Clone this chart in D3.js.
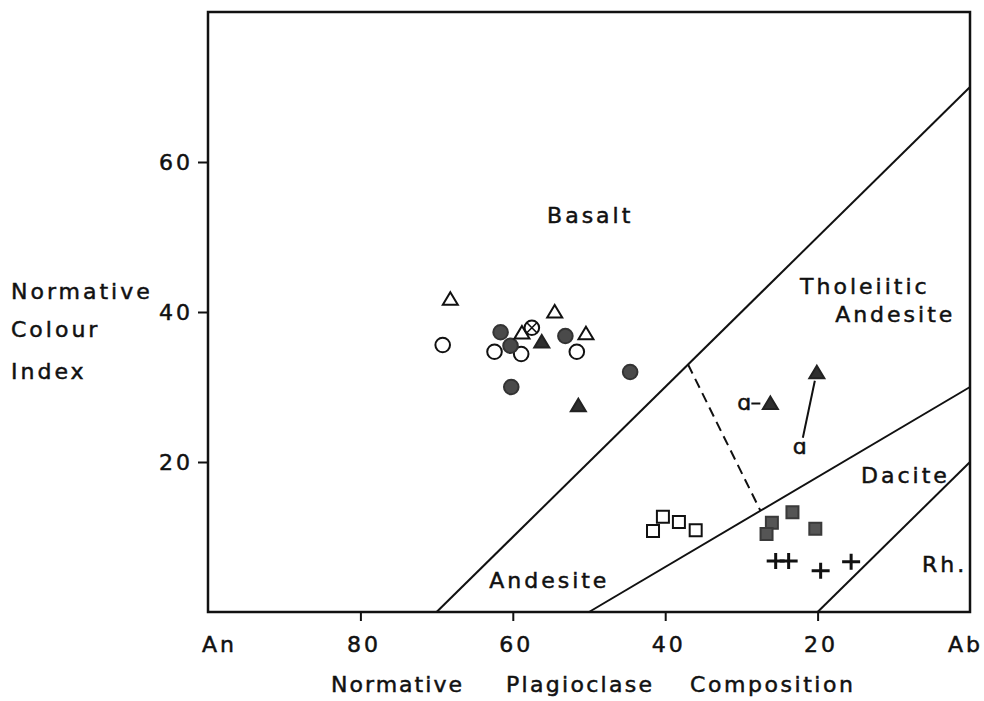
<!DOCTYPE html>
<html>
<head>
<meta charset="utf-8">
<script src="https://cdn.jsdelivr.net/npm/d3@7/dist/d3.min.js"></script>
<style>
  html, body { margin: 0; padding: 0; background: #fff; }
  svg text { font-family: "DejaVu Sans", sans-serif; font-size: 22px; fill: #111; letter-spacing: 3px;
             stroke: #111; stroke-width: 0.5px; }
</style>
</head>
<body>
<svg id="chart" width="984" height="701"></svg>
<script>
// Normative plagioclase composition (An %) vs normative colour index
const xTickValues = [100, 80, 60, 40, 20, 0];
const xTickLabels = ["An", "80", "60", "40", "20", "Ab"];
const yTickValues = [20, 40, 60];

// Field boundaries, as [An, colour index] end points
const boundaryBasaltAndesite = [[70, 0], [0, 70]];
const boundaryAndesiteDacite = [[50, 0], [0, 30]];
const boundaryDaciteRhyolite = [[20, 0], [0, 20]];
const boundaryTholeiitic = [[37, 33], [27.5, 13.5]];

// Samples, as [An, colour index]
const openCircles = [[69.2, 35.6], [62.4, 34.7], [58.9, 34.4], [51.6, 34.7]];
const filledCircles = [[61.6, 37.3], [60.3, 35.5], [53.1, 36.8], [60.2, 30.0], [44.6, 32.0]];
const crossedCircles = [[57.5, 37.9]];
const openTriangles = [[68.2, 41.7], [54.5, 40.0], [58.8, 37.2], [50.4, 37.1]];
const filledTriangles = [[56.2, 36.0], [51.4, 27.5], [26.2, 27.8], [20.1, 31.9]];
const openSquares = [[41.6, 10.8], [40.3, 12.7], [38.2, 12.0], [36.0, 10.9]];
const filledSquares = [[23.3, 13.3], [26.0, 11.9], [26.7, 10.4], [20.3, 11.1]];
const crosses = [[25.5, 6.8], [23.8, 6.8], [19.6, 5.5], [15.6, 6.7]];

// Field names and where they start, in data units
const fieldNames = ["Basalt", "Tholeiitic", "Andesite", "Dacite", "Andesite", "Rh."];
const fieldAn = [55.5, 22.3, 17.7, 14.3, 63.1, 6.3];
const fieldCI = [51.9, 42.4, 38.7, 17.2, 3.2, 5.3];

// Axis titles
const xTitleWords = ["Normative", "Plagioclase", "Composition"];
const yTitleLines = ["Normative", "Colour", "Index"];

const svg = d3.select("#chart");
const x = d3.scaleLinear().domain([100, 0]).range([208, 970]);
const y = d3.scaleLinear().domain([0, 80]).range([612, 12]);

const line = d3.line().x(d => x(d[0])).y(d => y(d[1]));

// plot frame
svg.append("rect")
  .attr("x", x(100)).attr("y", y(80))
  .attr("width", x(0) - x(100)).attr("height", y(0) - y(80))
  .attr("fill", "none").attr("stroke", "#111").attr("stroke-width", 2.5);

// boundaries
[boundaryBasaltAndesite, boundaryAndesiteDacite, boundaryDaciteRhyolite].forEach(b => {
  svg.append("path").attr("d", line(b)).attr("fill", "none")
    .attr("stroke", "#111").attr("stroke-width", 2);
});
svg.append("path").attr("d", line(boundaryTholeiitic)).attr("fill", "none")
  .attr("stroke", "#111").attr("stroke-width", 2).attr("stroke-dasharray", "10,6");

// axes
const xAxis = d3.axisBottom(x)
  .tickValues(xTickValues)
  .tickFormat((d, i) => xTickLabels[i])
  .tickSize(9).tickSizeOuter(0).tickPadding(15);
const gx = svg.append("g").attr("transform", `translate(0,${y(0)})`).call(xAxis);
gx.select(".domain").remove();
gx.selectAll(".tick line").attr("stroke", "#111").attr("stroke-width", 2)
  .filter(d => d === 100 || d === 0).remove();
gx.selectAll(".tick text").attr("font-family", null).attr("font-size", null)
  .attr("dx", d => d === 100 ? 11 : (d === 0 ? -5 : 3));

const yAxis = d3.axisLeft(y).tickValues(yTickValues).tickSize(10).tickPadding(5);
const gy = svg.append("g").attr("transform", `translate(${x(100)},0)`).call(yAxis);
gy.select(".domain").remove();
gy.selectAll(".tick line").attr("stroke", "#111").attr("stroke-width", 2);
gy.selectAll(".tick text").attr("font-family", null).attr("font-size", null).attr("dy", "0.36em");

// axis titles
const titleStart = [331, 506, 690], titleLen = [134, 149, 166];
xTitleWords.forEach((t, i) => {
  svg.append("text").attr("x", titleStart[i]).attr("y", 692)
    .attr("textLength", titleLen[i]).attr("lengthAdjust", "spacing").text(t);
});
yTitleLines.forEach((t, i) => {
  svg.append("text").attr("x", 11).attr("y", [299, 337, 379][i]).text(t);
});

// field names
fieldNames.forEach((t, i) => {
  svg.append("text").attr("x", x(fieldAn[i])).attr("y", y(fieldCI[i])).text(t);
});

// sample symbols
const ink = "#111";
const g = svg.append("g");
function circles(data, fill) {
  g.selectAll(null).data(data).enter().append("circle")
    .attr("cx", d => x(d[0])).attr("cy", d => y(d[1])).attr("r", 7.3)
    .attr("fill", fill).attr("stroke", fill === "#fff" ? ink : "#333").attr("stroke-width", 2);
}
const tri = "M0,-7 L7.5,5.5 L-7.5,5.5 Z";
function triangles(data, fill) {
  g.selectAll(null).data(data).enter().append("path")
    .attr("d", tri).attr("transform", d => `translate(${x(d[0])},${y(d[1])})`)
    .attr("fill", fill).attr("stroke", fill === "#fff" ? ink : "#222").attr("stroke-width", 2)
    .attr("stroke-linejoin", "miter");
}
function squares(data, fill) {
  g.selectAll(null).data(data).enter().append("rect")
    .attr("x", d => x(d[0]) - 6).attr("y", d => y(d[1]) - 6)
    .attr("width", 12).attr("height", 12)
    .attr("fill", fill).attr("stroke", fill === "#fff" ? ink : "#3a3a3a").attr("stroke-width", 2);
}

circles(openCircles, "#fff");
circles(filledCircles, "#4a4a4a");
triangles(openTriangles, "#fff");
triangles(filledTriangles, "#2f2f2f");
squares(openSquares, "#fff");
squares(filledSquares, "#555");

crossedCircles.forEach(d => {
  const cg = g.append("g").attr("transform", `translate(${x(d[0])},${y(d[1])})`);
  cg.append("circle").attr("r", 7.3).attr("fill", "#fff").attr("stroke", ink).attr("stroke-width", 2);
  cg.append("path").attr("d", "M-5,-5L5,5M5,-5L-5,5").attr("stroke", ink).attr("stroke-width", 1.6);
});

crosses.forEach(d => {
  g.append("path").attr("transform", `translate(${x(d[0])},${y(d[1])})`)
    .attr("d", "M-9,0H9M0,-8V8").attr("stroke", ink).attr("stroke-width", 3);
});

// alkali-rich samples marked with alpha
const a1 = filledTriangles[2], a2 = filledTriangles[3];
svg.append("text").attr("x", x(a1[0]) - 26).attr("y", y(a1[1]) + 6)
  .attr("text-anchor", "middle").style("letter-spacing", "0").text("ɑ");
svg.append("line").attr("x1", x(a1[0]) - 19).attr("x2", x(a1[0]) - 10)
  .attr("y1", y(a1[1])).attr("y2", y(a1[1])).attr("stroke", ink).attr("stroke-width", 2);
svg.append("line").attr("x1", x(a2[0]) - 2).attr("y1", y(a2[1]) + 8)
  .attr("x2", x(a2[0]) - 14).attr("y2", y(a2[1]) + 65).attr("stroke", ink).attr("stroke-width", 2);
svg.append("text").attr("x", x(a2[0]) - 17).attr("y", y(a2[1]) + 81)
  .attr("text-anchor", "middle").style("letter-spacing", "0").text("ɑ");
</script>
</body>
</html>
